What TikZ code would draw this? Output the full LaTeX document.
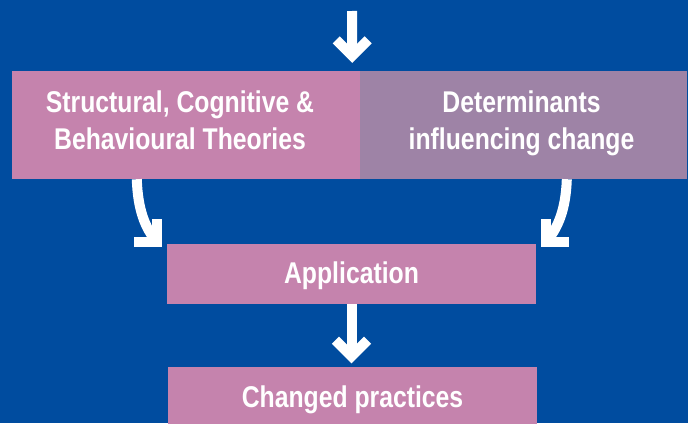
\documentclass[tikz,border=0pt]{standalone}
\usepackage{fontspec}
\setmainfont{Liberation Sans}[FakeStretch=0.825]
\usetikzlibrary{calc}
\definecolor{bgblue}{RGB}{0,76,159}
\definecolor{pinkbox}{RGB}{197,131,173}
\definecolor{mauvebox}{RGB}{158,131,166}
\begin{document}
\begin{tikzpicture}[x=1pt,y=-1pt,
  box/.style={rectangle, inner sep=0pt, text=white, font=\bfseries\fontsize{30}{37}\selectfont, align=center},
  bigbox/.style={box, minimum height=108pt, text height=59pt, text depth=11pt},
  smallbox/.style={box, fill=pinkbox, minimum width=369pt, minimum height=60pt, text height=22pt},
  shaft/.style={draw=white, line width=10pt},
  chev/.pic={\draw[white, line width=10pt, line join=miter] (-16,-16) -- (0,0) -- (16,-16);}
]
\path[fill=bgblue] (0,0) rectangle (688,423);
\useasboundingbox (0,0) rectangle (688,423);
\clip (0,0) rectangle (688,423);
\node[bigbox, fill=pinkbox, minimum width=348pt] (theories) at (186,125) {Structural, Cognitive \&\kern12pt\\Behavioural Theories\kern12pt};
\node[bigbox, fill=mauvebox, minimum width=327pt] (determ) at (523.5,125) {Determinants\kern4pt\\influencing change\kern4pt};
\node[smallbox, text depth=4pt] (app) at (351.5,274) {Application};
\node[smallbox, text depth=2pt] (changed) at (352.5,397) {Changed practices};
% top arrow
\coordinate (topstart) at (352,11);
\coordinate (topvertex) at ($(theories.north east)+(-8,-15)$);
\draw[shaft] (topstart) -- (topvertex);
\pic at (topvertex) {chev};
% bottom arrow
\coordinate (botvertex) at ($(app.south)+(0,52)$);
\draw[shaft] (app.south) -- (botvertex);
\pic at (botvertex) {chev};
% left curved arrow
\coordinate (lstart) at ($(theories.south west)+(125,0)$);
\coordinate (lvertex) at ($(app.north west)+(-10,-2)$);
\draw[shaft] (lstart) .. controls ($(lstart)+(1,30)$) and ($(lvertex)+(-12,-14)$) .. (lvertex);
\pic[rotate=45] at (lvertex) {chev};
% right curved arrow
\coordinate (rstart) at ($(determ.south west)+(207,0)$);
\coordinate (rvertex) at ($(app.north east)+(10,-2)$);
\draw[shaft] (rstart) .. controls ($(rstart)+(-1,30)$) and ($(rvertex)+(12,-14)$) .. (rvertex);
\pic[rotate=-45] at (rvertex) {chev};
\end{tikzpicture}
\end{document}
